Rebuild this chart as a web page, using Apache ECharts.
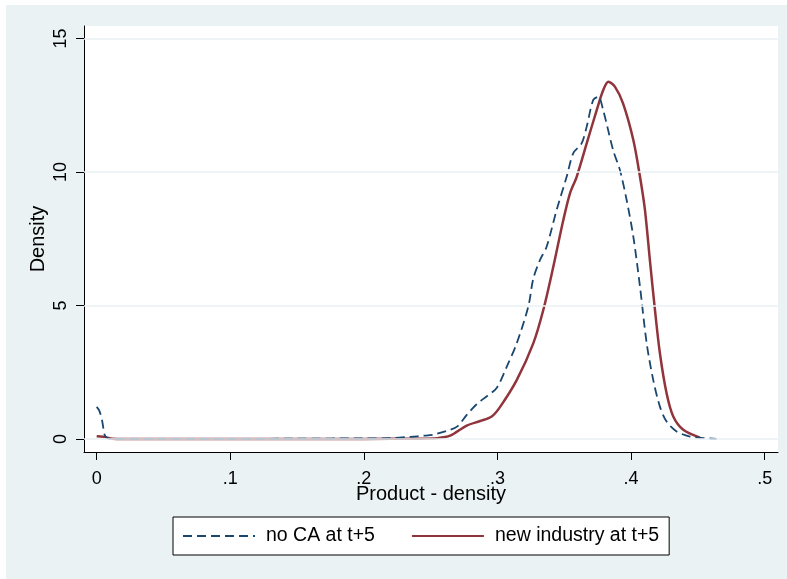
<!DOCTYPE html>
<html>
<head>
<meta charset="utf-8">
<script src="https://cdn.jsdelivr.net/npm/echarts@6/dist/echarts.min.js"></script>
<style>html,body{margin:0;padding:0;background:#fff;}#c{width:787px;height:579px;}</style>
</head>
<body>
<div id="c"></div>
<script>
// Data
var seriesNames = ['no CA at t+5', 'new industry at t+5'];
var xTicks = [0, 0.1, 0.2, 0.3, 0.4, 0.5];
var xTickLabels = ['0', '.1', '.2', '.3', '.4', '.5'];
var yTicks = [0, 5, 10, 15];
var yTickLabels = ['0', '5', '10', '15'];

var noCaX = [0, 0.002, 0.004, 0.006, 0.008, 0.012, 0.05, 0.1, 0.15, 0.2, 0.22, 0.235, 0.245, 0.252, 0.262, 0.27, 0.277, 0.2844, 0.292, 0.2994, 0.3069, 0.3144, 0.3231, 0.3268, 0.3318, 0.3368, 0.3443, 0.3518, 0.3567, 0.363, 0.3668, 0.3717, 0.3755, 0.3792, 0.3867, 0.3917, 0.3967, 0.4017, 0.4067, 0.4117, 0.4166, 0.4216, 0.4266, 0.4341, 0.4441, 0.455, 0.464];
var noCaY = [1.2, 1.05, 0.7, 0.15, 0.03, 0, 0, 0, 0.01, 0.02, 0.03, 0.08, 0.12, 0.16, 0.3, 0.47, 0.9, 1.3, 1.6, 1.91, 2.7, 3.58, 4.96, 6.0, 6.7, 7.2, 8.58, 9.82, 10.7, 11.07, 11.7, 12.7, 12.82, 12.3, 10.8, 10.07, 8.95, 7.58, 5.7, 3.58, 2.21, 1.21, 0.65, 0.28, 0.09, 0.03, 0];

var newIndX = [0, 0.005, 0.012, 0.02, 0.1, 0.2, 0.24, 0.255, 0.2646, 0.277, 0.287, 0.2957, 0.302, 0.3144, 0.3268, 0.3343, 0.3418, 0.3493, 0.3543, 0.3593, 0.3668, 0.3743, 0.3792, 0.383, 0.388, 0.394, 0.4017, 0.4067, 0.4104, 0.4141, 0.4179, 0.4216, 0.4266, 0.4316, 0.4391, 0.4516];
var newIndY = [0.1, 0.08, 0.01, 0, 0, 0, 0.01, 0.03, 0.12, 0.5, 0.67, 0.84, 1.2, 2.2, 3.58, 4.83, 6.45, 8.2, 9.2, 9.82, 11.07, 12.32, 13.07, 13.38, 13.19, 12.57, 11.2, 9.82, 8.58, 6.7, 4.83, 3.21, 1.71, 0.84, 0.34, 0.05];

function zip(xs, ys) { return xs.map(function (x, i) { return [x, ys[i]]; }); }

var FONT = 'Liberation Sans, Arial, sans-serif';
var chart = echarts.init(document.getElementById('c'), null, { renderer: 'canvas' });
chart.setOption({
  backgroundColor: '#ffffff',
  animation: false,
  textStyle: { fontFamily: FONT },
  graphic: [{
    type: 'rect', z: -10, silent: true,
    shape: { x: 6, y: 5, width: 781, height: 574 },
    style: { fill: '#eaf2f3' }
  }],
  grid: {
    left: 84, right: 9, top: 26, bottom: 127,
    show: true, backgroundColor: '#ffffff', borderWidth: 0
  },
  legend: {
    left: 173, top: 517,
    orient: 'horizontal',
    data: seriesNames,
    backgroundColor: '#ffffff',
    borderColor: '#000000', borderWidth: 1,
    padding: [9, 10, 9, 9],
    itemWidth: 72, itemHeight: 14, itemGap: 36,
    itemStyle: { opacity: 0 },
    textStyle: { fontSize: 19.5, color: '#000', fontFamily: FONT, padding: [0, 0, 0, 6] }
  },
  xAxis: {
    type: 'value', min: -0.0095, max: 0.51,
    name: 'Product - density', nameLocation: 'middle', nameGap: 32, nameMoveOverlap: false,
    nameTextStyle: { fontSize: 20, color: '#000', fontFamily: FONT },
    axisLine: { show: true, onZero: false, lineStyle: { color: '#000', width: 1 } },
    axisTick: { show: true, length: 8, customValues: xTicks, lineStyle: { color: '#000' } },
    axisLabel: {
      customValues: xTicks, fontSize: 18, color: '#000', margin: 18, fontFamily: FONT,
      formatter: function (v) { var i = xTicks.indexOf(v); return i >= 0 ? xTickLabels[i] : ''; }
    },
    splitLine: { show: false }
  },
  yAxis: {
    type: 'value', min: -0.49, max: 15.47,
    name: 'Density', nameLocation: 'middle', nameGap: 36, nameRotate: 90, nameMoveOverlap: false,
    nameTextStyle: { fontSize: 20, color: '#000', fontFamily: FONT },
    axisLine: { show: true, onZero: false, lineStyle: { color: '#000', width: 1 } },
    axisTick: { show: true, length: 8, customValues: yTicks, lineStyle: { color: '#000' } },
    axisLabel: {
      customValues: yTicks, fontSize: 18, color: '#000', margin: 14, rotate: 90, fontFamily: FONT,
      formatter: function (v) { var i = yTicks.indexOf(v); return i >= 0 ? yTickLabels[i] : ''; }
    },
    splitLine: { show: false }
  },
  series: [
    {
      name: 'gridlines', type: 'line', data: [], z: 1, silent: true,
      markLine: {
        silent: true, symbol: 'none', label: { show: false },
        lineStyle: { color: '#eaf2f3', width: 1.5, type: 'solid' },
        data: yTicks.map(function (v) { return { yAxis: v }; })
      }
    },
    {
      name: seriesNames[0], type: 'line', data: zip(noCaX, noCaY), z: 3,
      smooth: 0.3, symbol: 'none', showSymbol: false,
      itemStyle: { color: '#1a476f' },
      lineStyle: { color: '#1a476f', width: 1.8, type: [9, 5] }
    },
    {
      name: seriesNames[1], type: 'line', data: zip(newIndX, newIndY), z: 2,
      smooth: 0.3, symbol: 'none', showSymbol: false,
      itemStyle: { color: '#90353b' },
      lineStyle: { color: '#90353b', width: 2.5 }
    }
  ]
});
</script>
</body>
</html>
